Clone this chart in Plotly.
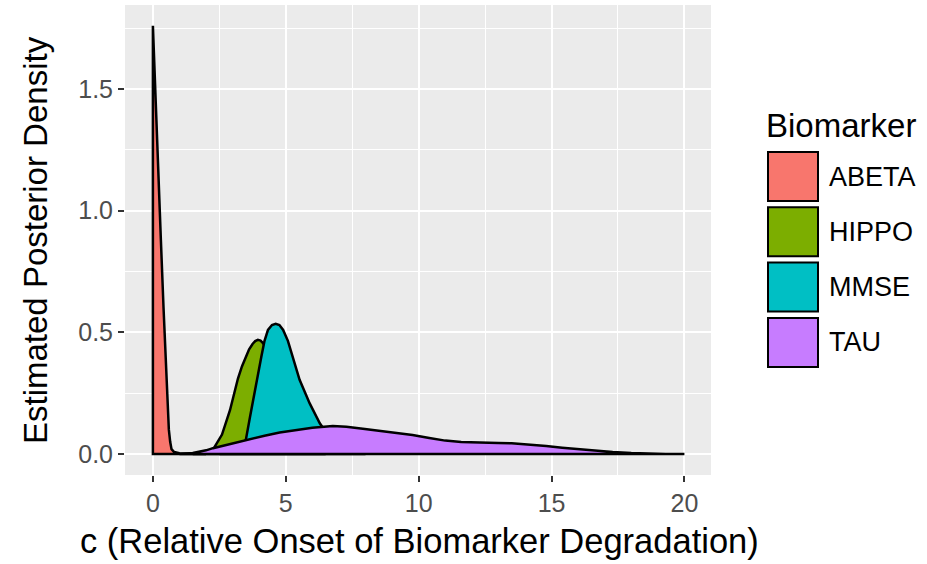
import plotly.graph_objects as go

# ---- data ----
categories = ["ABETA", "HIPPO", "MMSE", "TAU"]
colors = ["#F8766D", "#7CAE00", "#00BFC4", "#C77CFF"]

abeta_x = [0, 0.05, 0.1, 0.15, 0.2, 0.3, 0.4, 0.5, 0.6, 0.65, 0.7, 0.8, 1.0, 1.5, 2.0]
abeta_y = [1.76, 1.60, 1.45, 1.30, 1.15, 0.88, 0.60, 0.33, 0.10, 0.05, 0.02, 0.008, 0.003, 0.001, 0]

hippo_x = [1.5, 2.0, 2.3, 2.6, 2.9, 3.05, 3.2, 3.35, 3.5, 3.62, 3.75, 3.85, 3.95, 4.05, 4.15, 4.3, 4.6, 5.0, 5.5, 6.0, 6.5]
hippo_y = [0, 0.005, 0.025, 0.08, 0.18, 0.25, 0.31, 0.36, 0.40, 0.43, 0.452, 0.464, 0.469, 0.466, 0.455, 0.42, 0.33, 0.20, 0.08, 0.02, 0]

mmse_x = [2.5, 3.0, 3.3, 3.5, 3.65, 3.77, 3.92, 4.08, 4.2, 4.33, 4.48, 4.62, 4.76, 4.9, 5.08, 5.27, 5.52, 5.9, 6.28, 6.7, 7.2, 8.0]
mmse_y = [0, 0.005, 0.02, 0.06, 0.15, 0.222, 0.315, 0.40, 0.465, 0.51, 0.53, 0.535, 0.53, 0.51, 0.465, 0.40, 0.305, 0.208, 0.126, 0.06, 0.02, 0]

tau_x = [1.0, 1.5, 2.0, 2.26, 2.8, 3.52, 4.2, 4.77, 5.4, 6.0, 6.77, 7.28, 7.9, 8.53, 9.2, 9.77,
         10.4, 11.0, 11.6, 12.3, 13.0, 13.5, 14.2, 14.8, 15.4, 16.05, 16.7, 17.3, 18.0, 18.56, 19.3, 20.0]
tau_y = [0, 0.004, 0.015, 0.024, 0.038, 0.058, 0.075, 0.088, 0.099, 0.108, 0.115, 0.112, 0.104, 0.096, 0.087, 0.078,
         0.066, 0.055, 0.049, 0.046, 0.045, 0.044, 0.039, 0.033, 0.026, 0.019, 0.013, 0.008, 0.004, 0.002, 0.0005, 0]

x_ticks = [0, 5, 10, 15, 20]
y_ticks = [0.0, 0.5, 1.0, 1.5]
y_tick_labels = ["0.0", "0.5", "1.0", "1.5"]

series = [(abeta_x, abeta_y), (hippo_x, hippo_y), (mmse_x, mmse_y), (tau_x, tau_y)]

# ---- layout geometry (pixels) ----
W, H = 927, 564
L, R, T, B = 125, 711, 5, 475
pw, ph = R - L, B - T

def px(x):
    return (x - L) / pw

def py(y):
    return (B - y) / ph

fig = go.Figure()
for name, col, (xs, ys) in zip(categories, colors, series):
    # closed density polygon down to the baseline
    xx = list(xs) + [xs[-1], xs[0], xs[0]]
    yy = list(ys) + [0, 0, ys[0]]
    fig.add_trace(go.Scatter(
        x=xx, y=yy, mode="lines", fill="toself", fillcolor=col,
        line=dict(color="black", width=2.5), name=name, showlegend=False,
        hoverinfo="skip"))

font_family = "Liberation Sans, Arial, sans-serif"

shapes = []
annotations = []

# legend drawn manually to match ggplot's large key boxes
box_left, box_w, box_h = 768, 50, 49
first_top, step = 152, 55.3
for i, (name, col) in enumerate(zip(categories, colors)):
    top = first_top + i * step
    shapes.append(dict(type="rect", xref="paper", yref="paper",
                       x0=px(box_left), x1=px(box_left + box_w),
                       y0=py(top + box_h), y1=py(top),
                       fillcolor=col, line=dict(color="black", width=2)))
    annotations.append(dict(text=name, xref="paper", yref="paper",
                            x=px(827), y=py(top + box_h / 2), xanchor="left", yanchor="middle",
                            showarrow=False, font=dict(size=27, color="black", family=font_family)))

annotations.append(dict(text="Biomarker", xref="paper", yref="paper",
                        x=px(764), y=py(125), xanchor="left", yanchor="middle",
                        showarrow=False, font=dict(size=33, color="black", family=font_family)))

annotations.append(dict(text="Estimated Posterior Density", xref="paper", yref="paper",
                        x=px(35), y=py(240), xanchor="center", yanchor="middle", textangle=-90,
                        showarrow=False, font=dict(size=33, color="black", family=font_family)))

annotations.append(dict(text="c (Relative Onset of Biomarker Degradation)", xref="paper", yref="paper",
                        x=px(419), y=py(541), xanchor="center", yanchor="middle",
                        showarrow=False, font=dict(size=34.5, color="black", family=font_family)))

fig.update_layout(
    width=W, height=H,
    margin=dict(l=L, r=W - R, t=T, b=H - B),
    paper_bgcolor="white", plot_bgcolor="#EBEBEB",
    shapes=shapes, annotations=annotations,
    showlegend=False,
    font=dict(family=font_family),
)

fig.update_xaxes(
    range=[-1.05, 21.0], tickvals=x_ticks, ticktext=[str(v) for v in x_ticks],
    showgrid=True, gridcolor="white", gridwidth=1.6, zeroline=False,
    ticks="outside", ticklen=6, tickwidth=1.6, tickcolor="#333333",
    tickfont=dict(size=25, color="#4D4D4D", family=font_family),
    minor=dict(tickvals=[2.5, 7.5, 12.5, 17.5], showgrid=True, gridcolor="white", gridwidth=0.8, ticks=""),
    showline=False, fixedrange=True,
)
fig.update_yaxes(
    range=[-0.0863, 1.845], tickvals=y_ticks, ticktext=y_tick_labels,
    showgrid=True, gridcolor="white", gridwidth=1.6, zeroline=False,
    ticks="outside", ticklen=6, tickwidth=1.6, tickcolor="#333333",
    tickfont=dict(size=25, color="#4D4D4D", family=font_family),
    minor=dict(tickvals=[0.25, 0.75, 1.25, 1.75], showgrid=True, gridcolor="white", gridwidth=0.8, ticks=""),
    showline=False, fixedrange=True,
)

fig.write_html("out.html")
